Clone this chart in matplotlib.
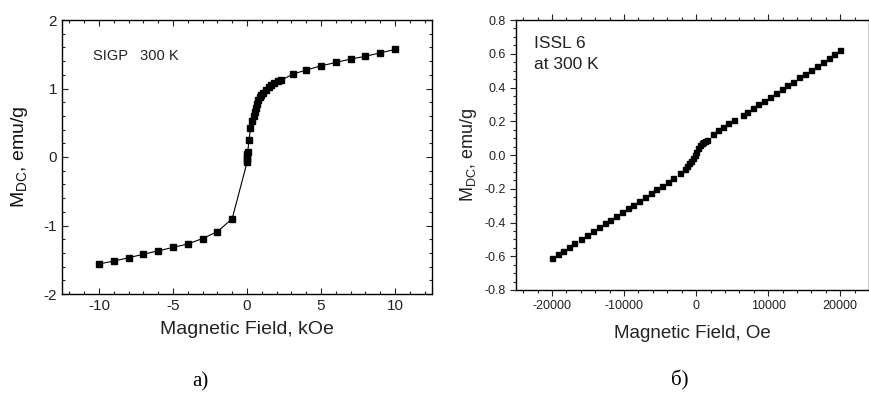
import numpy as np
import matplotlib.pyplot as plt
from matplotlib.ticker import MultipleLocator

plt.rcParams['font.family'] = 'Liberation Sans'
plt.rcParams['mathtext.fontset'] = 'custom'
plt.rcParams['mathtext.rm'] = 'Liberation Sans'
plt.rcParams['mathtext.it'] = 'Liberation Sans'
plt.rcParams['axes.unicode_minus'] = False

# panel a) SIGP, field in kOe
h_a = [-10, -9, -8, -7, -6, -5, -4, -3, -2, -1,
       0.0, 0.0, 0.02, 0.03, 0.05,
       0.14, 0.23, 0.34, 0.45, 0.52, 0.6, 0.68, 0.75, 0.85, 0.97, 1.1, 1.3,
       1.5, 1.65, 1.85, 2.1, 2.3, 3.1, 4.0, 5.0, 6.0, 7.0, 8.0, 9.0, 10.0]
m_a = [-1.56, -1.52, -1.47, -1.42, -1.37, -1.32, -1.27, -1.19, -1.09, -0.90,
       -0.08, -0.04, 0.0, 0.04, 0.08,
       0.25, 0.42, 0.52, 0.60, 0.65, 0.72, 0.78, 0.83, 0.87, 0.90, 0.94, 0.98,
       1.02, 1.05, 1.08, 1.11, 1.12, 1.21, 1.27, 1.33, 1.38, 1.43, 1.47, 1.52, 1.57]

# panel б) ISSL 6, field in Oe
h_b = [-20000, -19200, -18500, -17700, -16900, -16000, -15100, -14300, -13500,
       -12700, -11900, -11100, -10300, -9500, -8700, -7900, -7100, -6300,
       -5500, -4700, -3900, -3200, -2270, -1570, -1250, -970, -700, -420, -200,
       50, 250, 520, 750, 970, 1200, 1450, 2280, 3060, 3760, 4450, 5250,
       6450, 7100, 7840, 8630, 9420, 10250, 11040, 11880, 12670, 13500, 14340,
       15130, 15960, 16750, 17590, 18380, 19170, 20000]
m_b = [-0.613, -0.587, -0.567, -0.543, -0.524, -0.498, -0.474, -0.451, -0.429,
       -0.405, -0.385, -0.362, -0.338, -0.316, -0.294, -0.273, -0.251, -0.227,
       -0.204, -0.182, -0.160, -0.138, -0.108, -0.085, -0.068, -0.049, -0.035,
       -0.020, -0.002, 0.020, 0.040, 0.059, 0.070, 0.079, 0.085, 0.089, 0.124,
       0.148, 0.168, 0.188, 0.207, 0.237, 0.257, 0.277, 0.302, 0.322, 0.346,
       0.366, 0.389, 0.413, 0.435, 0.460, 0.480, 0.504, 0.528, 0.549, 0.573,
       0.599, 0.623]

W, H = 870, 396
fig = plt.figure(figsize=(W / 100, H / 100), dpi=100)
ax1 = fig.add_axes([62 / W, 1 - 294 / H, 370 / W, 274 / H])
ax2 = fig.add_axes([516 / W, 1 - 290 / H, 353 / W, 270 / H])

# ---- a)
ax1.plot(h_a, m_a, '-', color='black', lw=0.8, marker='s', ms=4, mfc='black', mec='black')
ax1.set_xlim(-12.5, 12.5)
ax1.set_ylim(-2, 2)
ax1.xaxis.set_major_locator(MultipleLocator(5))
ax1.xaxis.set_minor_locator(MultipleLocator(1))
ax1.yaxis.set_major_locator(MultipleLocator(1))
ax1.yaxis.set_minor_locator(MultipleLocator(0.2))
ax1.tick_params(axis='both', which='both', direction='in', top=True, right=True,
                labelsize=11, colors='#222222', width=0.8)
ax1.tick_params(which='major', length=4)
ax1.tick_params(which='minor', length=2.5)
ax1.set_xlabel('Magnetic Field, kOe', fontsize=14, labelpad=6, color='#222222')
ax1.set_ylabel(r'M$_{\rm DC}$, emu/g', fontsize=14, labelpad=10, color='#111111')
ax1.text(-10.4, 1.48, 'SIGP   300 K', fontsize=10.5, color='#222222', va='center')

# ---- б)
ax2.plot(h_b, m_b, 's', color='black', ms=3.6)
ax2.set_xlim(-25000, 24000)
ax2.set_ylim(-0.8, 0.8)
ax2.xaxis.set_major_locator(MultipleLocator(10000))
ax2.xaxis.set_minor_locator(MultipleLocator(2000))
ax2.yaxis.set_major_locator(MultipleLocator(0.2))
ax2.yaxis.set_minor_locator(MultipleLocator(0.05))
ax2.yaxis.set_major_formatter(lambda v, p: f'{v:.1f}')
ax2.tick_params(axis='both', which='both', direction='out', top=True, right=True,
                labelsize=9, colors='#222222', width=0.8)
ax2.tick_params(which='major', length=4)
ax2.tick_params(which='minor', length=2.5)
ax2.set_xlabel('Magnetic Field, Oe', fontsize=13.5, labelpad=9, color='#222222')
ax2.set_ylabel(r'M$_{\rm DC}$, emu/g', fontsize=13, labelpad=4, color='#222222')
ax2.text(-22500, 0.6, 'ISSL 6\nat 300 K', fontsize=12.5, color='#222222',
         va='center', linespacing=1.5)

for ax in (ax1, ax2):
    for s in ax.spines.values():
        s.set_linewidth(1.0)

fig.text(200 / W, 1 - 382 / H, 'а)', family='Liberation Serif', fontsize=15,
         ha='center', va='center')
fig.text(680 / W, 1 - 380 / H, 'б)', family='Liberation Serif', fontsize=15,
         ha='center', va='center')

fig.savefig('out.png', dpi=100)
